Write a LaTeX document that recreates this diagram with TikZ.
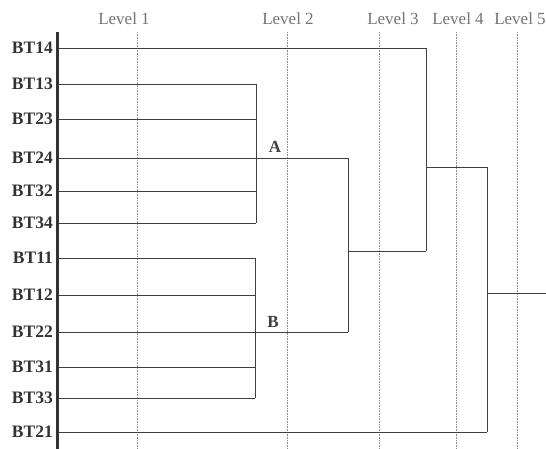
\documentclass[tikz,border=0pt]{standalone}
\usepackage{fontspec}
\setmainfont{Liberation Serif}
\begin{document}
\begin{tikzpicture}[x=1pt,y=-1pt,
  leaf/.style={anchor=east,inner sep=0pt,font=\fontsize{17.5}{18}\selectfont\bfseries,text=black!80},
  lvl/.style={inner sep=0pt,font=\fontsize{17}{17}\selectfont,text=black!55},
  tag/.style={inner sep=0pt,font=\fontsize{17}{17}\selectfont\bfseries,text=black!75},
  guide/.style={densely dotted,black!45,line width=0.6pt},
  link/.style={black!75,line width=0.9pt},
  axisline/.style={black!80,line width=3pt}]
\useasboundingbox (0,0) rectangle (546,449);
% level guides
\foreach \n/\x/\c in {1/137/124,2/287/288,3/379/393,4/456/458,5/517/520}{
  \node[lvl] (lv\n) at (\c,19) {Level \n};
  \coordinate (gt\n) at (\x,32);
  \coordinate (gb\n) at (\x,449);
  \draw[guide] (gt\n) -- (gb\n);
}
% axis
\coordinate (axt) at (57,32);
\coordinate (axb) at (57,449);
\draw[axisline] (axt) -- (axb);
% leaves
\foreach \n/\y in {14/48,13/84,23/119,24/158,32/191,34/223,11/258,12/295,22/332,31/367,33/398,21/432}{
  \node[leaf] (t\n) at (53,\y) {BT\n};
  \coordinate (s\n) at (58,\y);
}
% cluster 1
\foreach \n/\y in {13/84,23/119,32/191,34/223}{\coordinate (e\n) at (256,\y); \draw[link] (s\n) -- (e\n);}
\draw[link] (e13) -- (e34);
% cluster 2
\foreach \n/\y in {11/258,12/295,31/367,33/398}{\coordinate (e\n) at (255,\y); \draw[link] (s\n) -- (e\n);}
\draw[link] (e11) -- (e33);
% A and B
\coordinate (eA) at (348,158);
\coordinate (eB) at (348,332);
\draw[link] (s24) -- (eA) -- (eB);
\draw[link] (s22) -- (eB);
\node[tag] (A) at (275,147) {A};
\node[tag] (B) at (273,322) {B};
% level 3 join
\coordinate (j3) at (348,251);
\coordinate (k3) at (426,251);
\coordinate (e14) at (426,48);
\draw[link] (j3) -- (k3);
\draw[link] (s14) -- (e14) -- (k3);
% level 4 join
\coordinate (j4) at (426,167);
\coordinate (k4) at (487,167);
\coordinate (e21) at (487,432);
\draw[link] (j4) -- (k4) -- (e21);
\draw[link] (s21) -- (e21);
% root
\coordinate (j5) at (487,293);
\coordinate (k5) at (546,293);
\draw[link] (j5) -- (k5);
\end{tikzpicture}
\end{document}
